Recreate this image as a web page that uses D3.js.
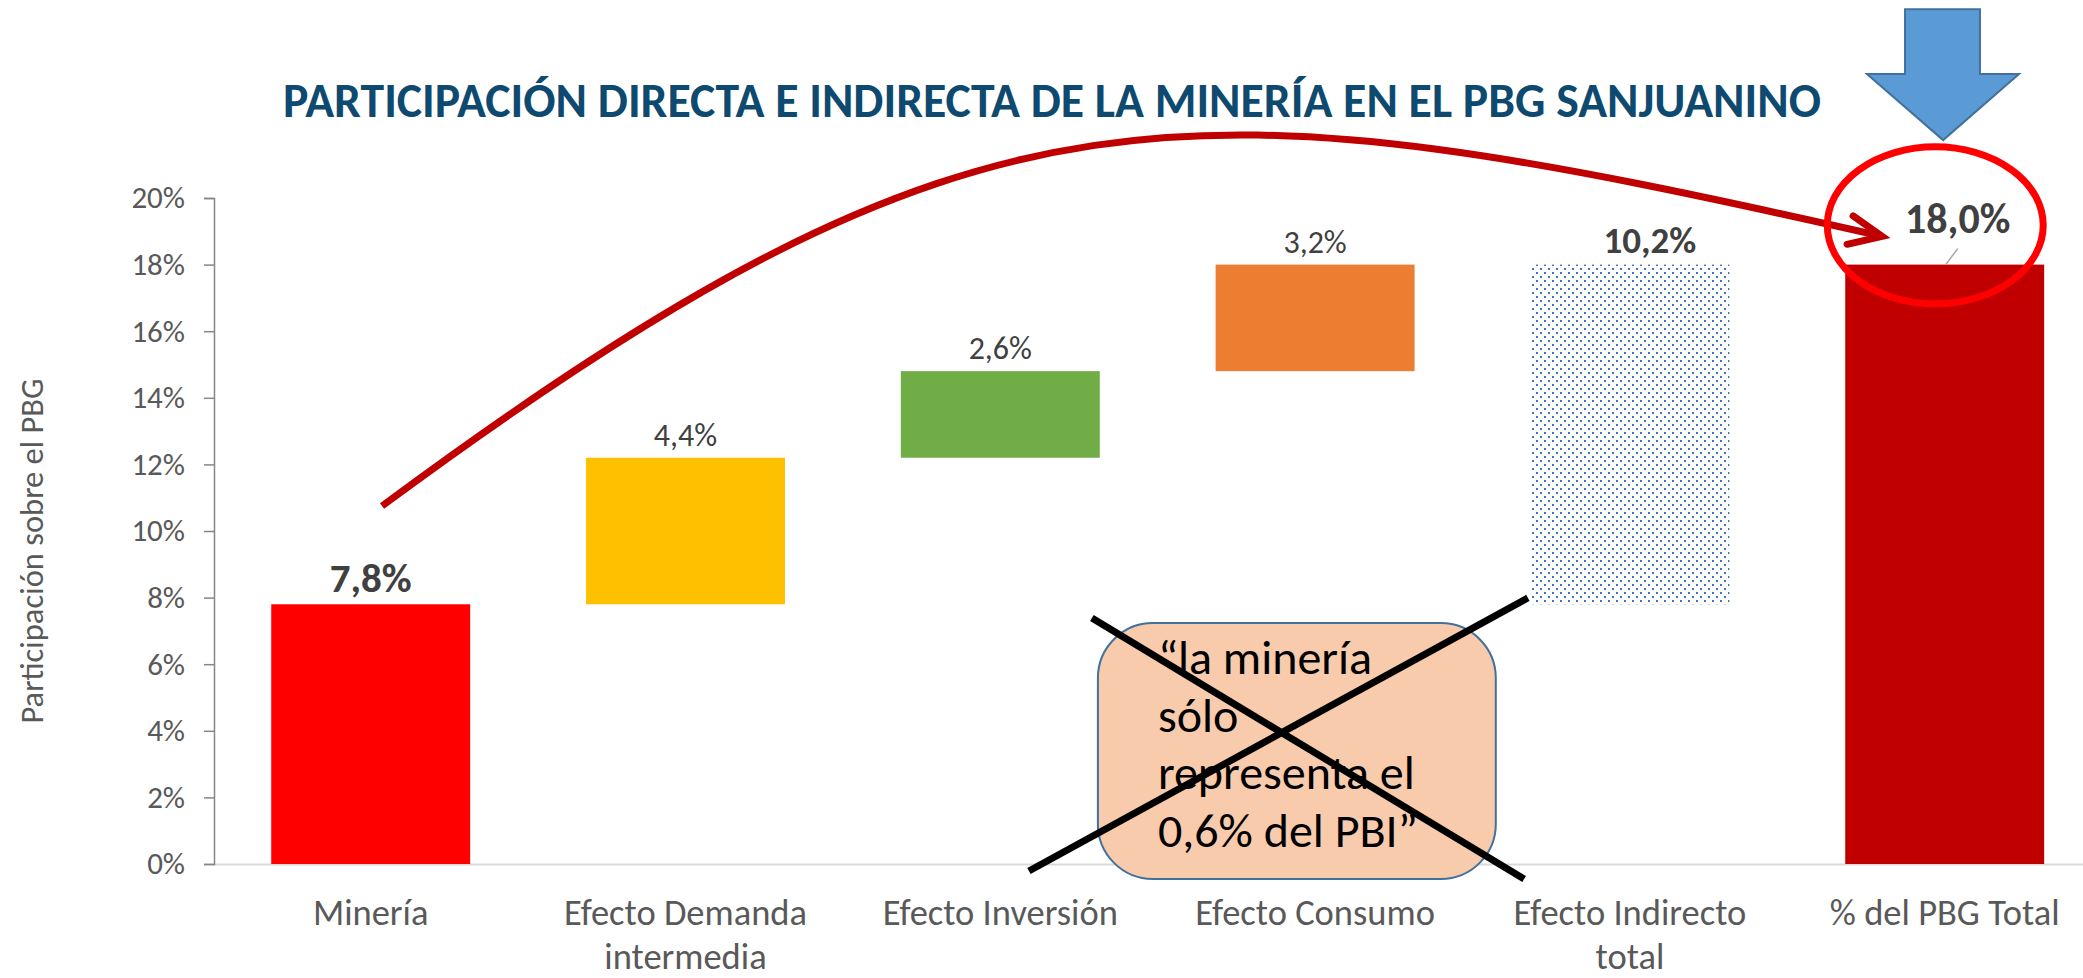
<!DOCTYPE html>
<html><head><meta charset="utf-8">
<script src="https://cdn.jsdelivr.net/npm/d3@7"></script>
<style>html,body{margin:0;padding:0;background:#fff;overflow:hidden}</style>
</head><body>
<svg id="chart" width="2083" height="978"></svg>
<script>
// ---------- data ----------
const categories = ["Minería", "Efecto Demanda intermedia", "Efecto Inversión", "Efecto Consumo", "Efecto Indirecto total", "% del PBG Total"];
const categoryLines = [["Minería"], ["Efecto Demanda", "intermedia"], ["Efecto Inversión"], ["Efecto Consumo"], ["Efecto Indirecto", "total"], ["% del PBG Total"]];
const barBase = [0, 7.8, 12.2, 14.8, 7.8, 0];
const barValues = [7.8, 4.4, 2.6, 3.2, 10.2, 18.0];
const barColors = ["#FF0000", "#FFC000", "#70AD47", "#ED7D31", "url(#dots)", "#C00000"];
const labelBold = [true, false, false, false, true, true];
const yTicks = [0, 2, 4, 6, 8, 10, 12, 14, 16, 18, 20];
const titleText = "PARTICIPACIÓN DIRECTA E INDIRECTA DE LA MINERÍA EN EL PBG SANJUANINO";
const yAxisTitle = "Participación sobre el PBG";
const noteLines = ["“la minería", "sólo", "representa el", "0,6% del PBI”"];
// annotation arc (cubic Bézier control points) in category-step units (u) and percent (p)
const arcU = [0.536, 2.442, 3.077, 5.301];
const arcP = [10.75, 24.08, 23.60, 18.85];

// ---------- setup ----------
const svg = d3.select("#chart");
const FONT = "Carlito, Calibri, Lato, sans-serif";
const x0 = 213.3, x1 = 2102.1;
const x = d3.scaleBand().domain(categories).range([x0, x1]).paddingInner(0.368).paddingOuter(0.184);
const xu = d3.scaleLinear().domain([0, categories.length]).range([x0, x1]);
const y = d3.scaleLinear().domain([0, 20]).range([864, 198]);

const defs = svg.append("defs");
const pat = defs.append("pattern").attr("id", "dots").attr("patternUnits", "userSpaceOnUse")
  .attr("width", 8).attr("height", 8);
pat.append("rect").attr("width", 8).attr("height", 8).attr("fill", "#fff");
pat.append("rect").attr("x", 0).attr("y", 0).attr("width", 2).attr("height", 2).attr("fill", "#4472C4");
pat.append("rect").attr("x", 4).attr("y", 4).attr("width", 2).attr("height", 2).attr("fill", "#4472C4");

svg.append("rect").attr("width", 2083).attr("height", 978).attr("fill", "#fff");

// title
const title = svg.append("text").attr("x", 1052).attr("y", 117).attr("text-anchor", "middle")
  .attr("font-family", FONT).attr("font-weight", "bold").attr("font-size", 42)
  .attr("fill", "#0E4A6F").text(titleText);
(function fit(sel, w) { const c = sel.node().getComputedTextLength(); sel.attr("font-size", 42 * w / c); })(title, 1538);

// x axis (baseline only)
const xAxisG = svg.append("g").attr("transform", `translate(0,${y(0)})`)
  .call(d3.axisBottom(x).tickSize(0).tickSizeOuter(0).tickFormat(""));
xAxisG.select(".domain").attr("stroke", "#D9D9D9").attr("stroke-width", 2);

// category labels
categories.forEach((c, i) => {
  const t = svg.append("text").attr("text-anchor", "middle").attr("font-family", FONT)
    .attr("font-size", 36.5).attr("fill", "#595959");
  categoryLines[i].forEach((ln, j) => {
    t.append("tspan").attr("x", x(c) + x.bandwidth() / 2).attr("y", y(0) + 61 + j * 44).text(ln);
  });
});

// y axis
const yAxisG = svg.append("g").attr("transform", `translate(${x0 + 0.7},0)`)
  .call(d3.axisLeft(y).tickValues(yTicks).tickSize(10).tickPadding(19).tickFormat(d => d + "%"));
yAxisG.selectAll("path,line").attr("stroke", "#868686").attr("stroke-width", 1.5);
yAxisG.selectAll("text").attr("font-family", FONT).attr("font-size", 31).attr("fill", "#595959");

// y axis title
svg.append("text").attr("transform", `translate(43,${(y(0) + y(20)) / 2 + 20}) rotate(-90)`)
  .attr("text-anchor", "middle").attr("font-family", FONT).attr("font-size", 32.5)
  .attr("fill", "#595959").text(yAxisTitle);

// bars
svg.append("g").selectAll("rect").data(categories).join("rect")
  .attr("x", d => x(d)).attr("width", x.bandwidth())
  .attr("y", (d, i) => y(barBase[i] + barValues[i]))
  .attr("height", (d, i) => y(barBase[i]) - y(barBase[i] + barValues[i]))
  .attr("fill", (d, i) => barColors[i]);

// text box annotation
const bx0 = xu(2.810), bx1 = xu(4.074), by0 = y(7.235), by1 = y(-0.45);
svg.append("rect").attr("x", bx0).attr("y", by0).attr("width", bx1 - bx0).attr("height", by1 - by0)
  .attr("rx", 55).attr("ry", 55).attr("fill", "#F8CBAD").attr("stroke", "#41719C").attr("stroke-width", 2);
const note = svg.append("text").attr("font-family", FONT).attr("font-size", 48).attr("fill", "#000");
noteLines.forEach((ln, j) => {
  note.append("tspan").attr("x", bx0 + 60).attr("y", by0 + 51 + j * 57.7).text(ln);
});
// X cross
svg.append("line").attr("x1", xu(2.791)).attr("y1", y(7.385)).attr("x2", xu(4.164)).attr("y2", y(-0.45))
  .attr("stroke", "#000").attr("stroke-width", 7);
svg.append("line").attr("x1", xu(2.591)).attr("y1", y(-0.21)).attr("x2", xu(4.176)).attr("y2", y(7.99))
  .attr("stroke", "#000").attr("stroke-width", 7);

// curved arrow (cubic Bézier)
const ap = d3.path();
ap.moveTo(xu(arcU[0]), y(arcP[0]));
ap.bezierCurveTo(xu(arcU[1]), y(arcP[1]), xu(arcU[2]), y(arcP[2]), xu(arcU[3]), y(arcP[3]));
svg.append("path").attr("d", ap.toString())
  .attr("fill", "none").attr("stroke", "#C00000").attr("stroke-width", 7);
svg.append("path").attr("d", d3.line()([[xu(5.209), y(19.46)], [xu(5.301), y(18.85)], [xu(5.190), y(18.61)]]))
  .attr("fill", "none").attr("stroke", "#C00000").attr("stroke-width", 7)
  .attr("stroke-linecap", "round").attr("stroke-linejoin", "miter");

// ellipse
const ecx = xu(5.470), ecy = y(19.18);
svg.append("ellipse").attr("cx", ecx).attr("cy", ecy)
  .attr("rx", xu(5.470 + 0.343) - ecx).attr("ry", y(19.18 - 2.357) - ecy)
  .attr("fill", "none").attr("stroke", "#FF0000").attr("stroke-width", 7);

// blue down arrow
const aL = xu(5.374), aR = xu(5.612), hL = xu(5.253), hR = xu(5.736), tX = xu(5.495);
const aTop = y(25.67), hTop = y(23.72), tip = y(21.74);
svg.append("path").attr("d", `M${aL},${aTop}L${aR},${aTop}L${aR},${hTop}L${hR},${hTop}L${tX},${tip}L${hL},${hTop}L${aL},${hTop}Z`)
  .attr("fill", "#5B9BD5").attr("stroke", "#41719C").attr("stroke-width", 2);

// value labels
const fmt = v => v.toFixed(1).replace(".", ",") + "%";
const boldSize = [41, 0, 0, 0, 37, 42];
categories.forEach((c, i) => {
  const cx = x(c) + x.bandwidth() / 2;
  const top = y(barBase[i] + barValues[i]);
  let dx = 0, dy = -12;
  if (i === 4) dx = 20;
  if (i === 5) { dx = 13; dy = -32; }
  svg.append("text").attr("x", cx + dx).attr("y", top + dy).attr("text-anchor", "middle")
    .attr("font-family", FONT).attr("font-weight", labelBold[i] ? "bold" : "normal")
    .attr("font-size", labelBold[i] ? boldSize[i] : 32).attr("fill", "#404040").text(fmt(barValues[i]));
  if (i === 5) {
    svg.append("line").attr("x1", cx + dx).attr("y1", top - 16).attr("x2", cx + dx - 12).attr("y2", top)
      .attr("stroke", "#A6A6A6").attr("stroke-width", 1.5);
  }
});
</script>
</body></html>
